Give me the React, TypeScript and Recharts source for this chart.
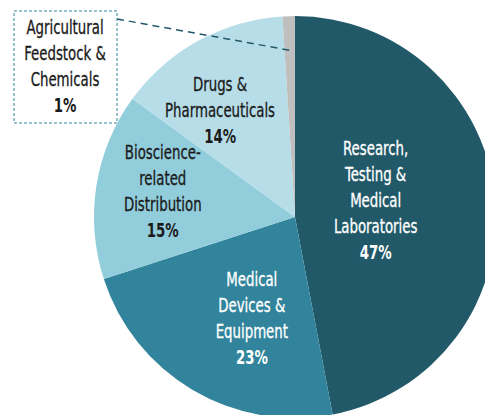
import { PieChart, Pie, Cell } from 'recharts'

const categories = [
  'Research,\nTesting &\nMedical\nLaboratories',
  'Medical\nDevices &\nEquipment',
  'Bioscience-\nrelated\nDistribution',
  'Drugs &\nPharmaceuticals',
  'Agricultural\nFeedstock &\nChemicals',
]
const shares = [47, 23, 15, 14, 1]
const sliceColors = ['#215968', '#31849b', '#92cddc', '#b7dee8', '#bfbfbf']
const textColors = ['#ffffff', '#ffffff', '#1a1a1a', '#1a1a1a', '#1a1a1a']

const data = categories.map((name, i) => ({ name, value: shares[i] }))

// label placement: [radius as share of outer radius, angle nudge in degrees]
const labelPlace = [
  [0.41, 6.5],
  [0.55, 7.6],
  [0.67, -1.9],
  [0.65, 6.2],
]

const FONT = '"DejaVu Sans Condensed", "Liberation Sans Narrow", sans-serif'
const LINE = 26
const SQUEEZE = 0.78
const RAD = Math.PI / 180

function textBlock(lines: string[], pct: string, x: number, y: number, color: string) {
  const all = [...lines, pct]
  const top = y - ((all.length - 1) * LINE) / 2
  return (
    <g transform={`translate(${x},${top}) scale(${SQUEEZE},1)`}>
      {all.map((t, i) => (
        <text
          key={i}
          x={0}
          y={i * LINE}
          fill={color}
          stroke={color}
          strokeWidth={i === all.length - 1 ? 0 : 0.3}
          textAnchor="middle"
          dominantBaseline="central"
          fontFamily={FONT}
          fontSize={19}
          fontWeight={i === all.length - 1 ? 700 : 400}
        >
          {t}
        </text>
      ))}
    </g>
  )
}

function renderLabel(props: any) {
  const { cx, cy, midAngle, outerRadius, index } = props
  const lines = categories[index].split('\n')
  const pct = `${shares[index]}%`
  if (index === 4) {
    const px = cx + outerRadius * 0.83 * Math.cos(-midAngle * RAD)
    const py = cy + outerRadius * 0.83 * Math.sin(-midAngle * RAD)
    return (
      <g>
        <line x1={cx - 178} y1={cy - 198} x2={px} y2={py}
          stroke="#215968" strokeWidth={1.5} strokeDasharray="7 5" />
        <rect x={cx - 281} y={cy - 206} width={103} height={112}
          fill="#ffffff" stroke="#31849b" strokeWidth={1} strokeDasharray="3 2" />
        {textBlock(lines, pct, cx - 230, cy - 150.5, textColors[index])}
      </g>
    )
  }
  const [rr, nudge] = labelPlace[index]
  const a = midAngle + nudge
  const x = cx + outerRadius * rr * Math.cos(-a * RAD)
  const y = cy + outerRadius * rr * Math.sin(-a * RAD)
  return <g>{textBlock(lines, pct, x, y, textColors[index])}</g>
}

export default function App() {
  return (
    <div style={{ position: 'absolute', left: 0, top: 0, width: 485, height: 415, background: '#fff' }}>
      <PieChart width={485} height={415} margin={{ top: 0, right: 0, bottom: 0, left: 0 }}>
        <Pie
          data={data}
          dataKey="value"
          nameKey="name"
          cx={295}
          cy={217}
          outerRadius={201}
          startAngle={90}
          endAngle={-270}
          stroke="none"
          label={renderLabel}
          labelLine={false}
          isAnimationActive={false}
        >
          {data.map((d, i) => (
            <Cell key={d.name} fill={sliceColors[i]} />
          ))}
        </Pie>
      </PieChart>
    </div>
  )
}
